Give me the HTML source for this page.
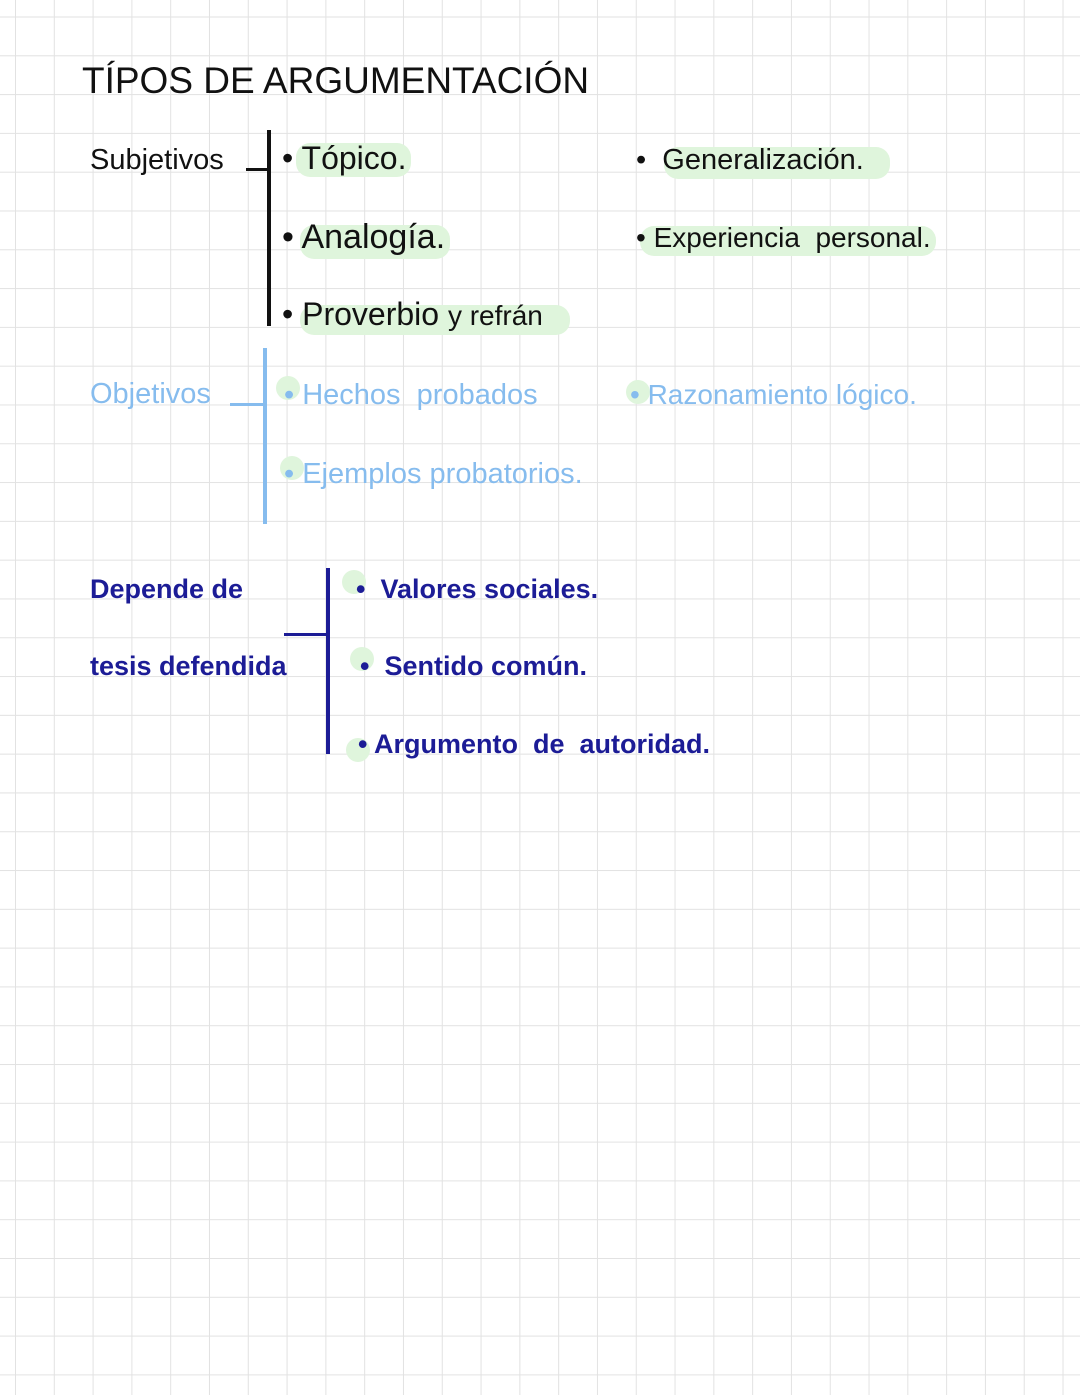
<!DOCTYPE html>
<html><head><meta charset="utf-8"><style>
html,body{margin:0;padding:0}
body{width:1080px;height:1395px;position:relative;overflow:hidden;background-color:#fff;
background-image:linear-gradient(to right,#e2e2e2 1.2px,transparent 1.2px),linear-gradient(to bottom,#e2e2e2 1.2px,transparent 1.2px);
background-size:38.8px 38.8px;background-position:15px 16.5px;font-family:"Liberation Sans",sans-serif}
.t{position:absolute;white-space:nowrap;line-height:1}
.k{color:#111}.b{color:#86bcee}.d{color:#1c1c96}
.hl{position:absolute;background:#dff5dc;border-radius:14px}
.dot{position:absolute;background:#dff5dc;border-radius:50%}
.ln{position:absolute}
</style></head><body>
<div class="t k" style="left:82px;top:62px;font-size:37px;">TÍPOS DE ARGUMENTACIÓN</div>

<div class="hl" style="left:296px;top:143px;width:115px;height:34px"></div>
<div class="hl" style="left:300px;top:225px;width:150px;height:34px"></div>
<div class="hl" style="left:300px;top:305px;width:270px;height:30px"></div>
<div class="hl" style="left:664px;top:147px;width:226px;height:32px"></div>
<div class="hl" style="left:640px;top:226px;width:296px;height:30px"></div>
<div class="dot" style="left:276px;top:376px;width:24px;height:24px"></div>
<div class="dot" style="left:280px;top:456px;width:24px;height:24px"></div>
<div class="dot" style="left:626px;top:380px;width:24px;height:24px"></div>
<div class="dot" style="left:342px;top:570px;width:24px;height:24px"></div>
<div class="dot" style="left:350px;top:647px;width:24px;height:24px"></div>
<div class="dot" style="left:346px;top:738px;width:24px;height:24px"></div>

<div class="t k" style="left:90px;top:146px;font-size:29px">Subjetivos</div>
<div class="ln" style="left:246px;top:168px;width:22px;height:3px;background:#111"></div>
<div class="ln" style="left:267px;top:130px;width:4px;height:196px;background:#111"></div>
<div class="t k" style="left:282px;top:142px;font-size:32px">• Tópico.</div>
<div class="t k" style="left:282px;top:220px;font-size:34px">• Analogía.</div>
<div class="t k" style="left:282px;top:298px;font-size:32px">• Proverbio <span style="font-size:28px">y refrán</span></div>
<div class="t k" style="left:636px;top:146px;font-size:29px">•&nbsp; Generalización.</div>
<div class="t k" style="left:636px;top:224px;font-size:28px">• Experiencia &nbsp;personal.</div>

<div class="t b" style="left:90px;top:380px;font-size:29px">Objetivos</div>
<div class="ln" style="left:230px;top:403px;width:36px;height:3px;background:#86bcee"></div>
<div class="ln" style="left:263px;top:348px;width:4px;height:176px;background:#86bcee"></div>
<div class="t b" style="left:284px;top:381px;font-size:29px">• Hechos &nbsp;probados</div>
<div class="t b" style="left:284px;top:460px;font-size:29px">• Ejemplos probatorios.</div>
<div class="t b" style="left:630px;top:381px;font-size:28px">• Razonamiento lógico.</div>

<div class="t d" style="left:90px;top:576px;font-size:27px;font-weight:bold">Depende de</div>
<div class="t d" style="left:90px;top:653px;font-size:27px;font-weight:bold">tesis defendida</div>
<div class="ln" style="left:284px;top:633px;width:44px;height:3px;background:#1c1c96"></div>
<div class="ln" style="left:326px;top:568px;width:4px;height:186px;background:#1c1c96"></div>
<div class="t d" style="left:356px;top:576px;font-size:27px;font-weight:bold">• &nbsp;Valores sociales.</div>
<div class="t d" style="left:360px;top:653px;font-size:27px;font-weight:bold">• &nbsp;Sentido común.</div>
<div class="t d" style="left:358px;top:731px;font-size:27px;font-weight:bold">• Argumento &nbsp;de &nbsp;autoridad.</div>
</body></html>
